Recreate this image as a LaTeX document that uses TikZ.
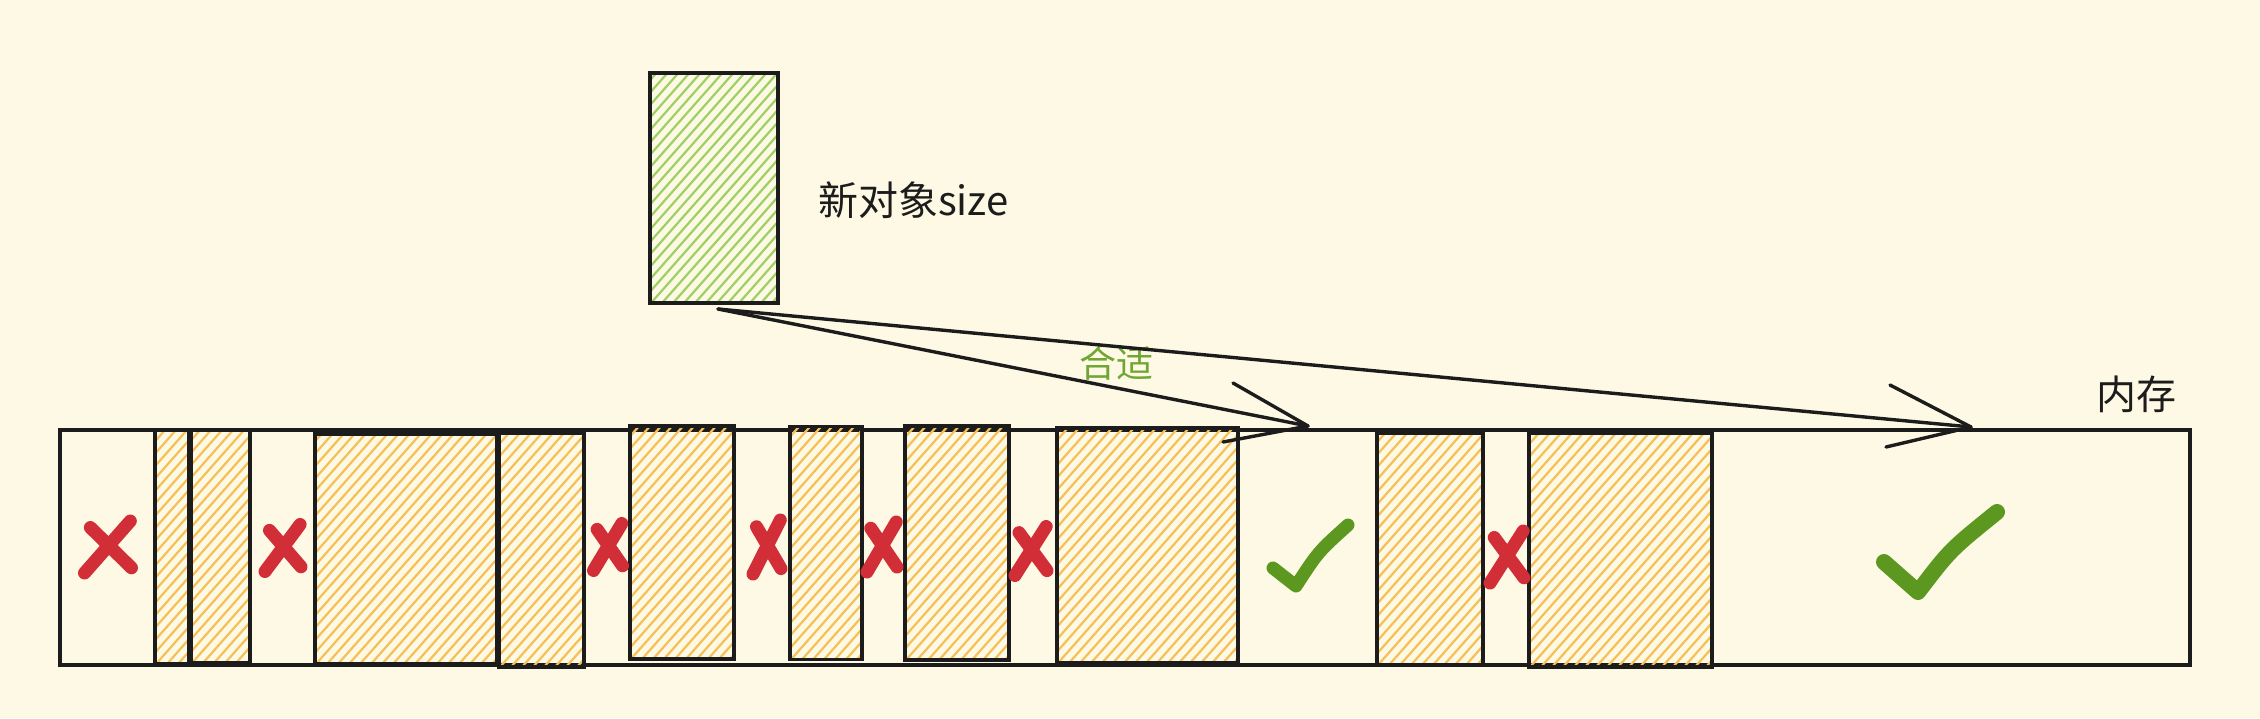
\documentclass[tikz,border=0pt]{standalone}
\usepackage{fontspec}
\newfontfamily\cjk{Noto Sans CJK SC}
\usetikzlibrary{calc}
\definecolor{bgc}{RGB}{253,249,228}
\definecolor{inkc}{RGB}{28,28,28}
\definecolor{orangeh}{RGB}{246,192,86}
\definecolor{greenh}{RGB}{158,208,100}
\definecolor{greent}{RGB}{112,166,52}
\definecolor{checkc}{RGB}{92,152,32}
\definecolor{redc}{RGB}{210,46,56}
\tikzset{
  hatchfill/.style={path picture={\foreach \i in {0,...,55}{\draw[#1, line width=2.2pt] ([xshift=\i*11pt-230pt]path picture bounding box.south west) -- ++(230pt,260pt);}}},
  blk/.style={rectangle, draw=inkc, line width=3.5pt, inner sep=0pt, outer sep=0pt, hatchfill=orangeh},
  newobj/.style={rectangle, draw=inkc, line width=3.5pt, inner sep=0pt, outer sep=0pt, hatchfill=greenh},
  membar/.style={rectangle, draw=inkc, line width=3.5pt, inner sep=0pt, outer sep=0pt},
  arr/.style={draw=inkc, line width=3.4pt, line cap=round, line join=round},
  xmk/.style={draw=redc, line width=13pt, line cap=round},
  ckm/.style={draw=checkc, line cap=round, line join=round},
  lbl/.style={font=\cjk\fontsize{40pt}{48pt}\selectfont, text=inkc, inner sep=0pt}
}
\newcommand{\redx}[4]{%
  \draw[xmk] ({#1+0.95*#3},{#2-#4}) -- ({#1-#3},{#2+#4});
  \draw[xmk] ({#1-0.75*#3},{#2-0.75*#4}) -- ({#1+#3},{#2+0.8*#4});}
\begin{document}
\begin{tikzpicture}[x=1pt,y=-1pt]
\useasboundingbox (0,0) rectangle (2260,718);
\fill[bgc] (0,0) rectangle (2260,718);

% memory bar
\node[membar, minimum width=2130pt, minimum height=235pt] (mem) at (1125,547.5) {};

% occupied blocks
\node[blk, minimum width=34pt,  minimum height=234pt] (b1)  at (172,547) {};
\node[blk, minimum width=59pt,  minimum height=233pt] (b2)  at (220.5,546.5) {};
\node[blk, minimum width=182pt, minimum height=230pt] (b3)  at (406,549) {};
\node[blk, minimum width=85pt,  minimum height=234pt] (b4)  at (541.5,550) {};
\node[blk, minimum width=104pt, minimum height=233pt] (b5)  at (682,542.5) {};
\node[blk, minimum width=72pt,  minimum height=233pt] (b6)  at (826,543) {};
\node[blk, minimum width=104pt, minimum height=234pt] (b7)  at (957,543) {};
\node[blk, minimum width=181pt, minimum height=235pt] (b8)  at (1147.5,545.5) {};
\node[blk, minimum width=106pt, minimum height=232pt] (b9)  at (1430,549) {};
\node[blk, minimum width=183pt, minimum height=234pt] (b10) at (1620.5,550) {};

% new object
\node[newobj, minimum width=128pt, minimum height=230pt] (nb) at (714,188) {};
\node[lbl, anchor=west] (size) at (818,200) {新对象size};
\node[lbl, anchor=center] (memlbl) at (2136,394) {内存};
\node[lbl, anchor=center, text=greent, font=\cjk\fontsize{37pt}{44pt}\selectfont] (fit) at (1116,363) {合适};

% arrows
\coordinate (src) at ([shift={(4pt,-6pt)}]nb.south);
\coordinate (tip1) at (1308,426);
\coordinate (tip2) at (1971,427);
\draw[arr] (src) -- (tip1);
\draw[arr] (1233,383) -- (tip1) -- (1223,442);
\draw[arr] (src) -- (tip2);
\draw[arr] (1890,385) -- (tip2) -- (1886,447);

% red crosses
\redx{108}{547}{23.5}{26}
\redx{283}{548}{18}{23.5}
\redx{608}{547}{14.5}{23.5}
\redx{767}{547}{14}{27}
\redx{882}{547}{15}{25}
\redx{1031}{551}{16}{24.5}
\redx{1507}{557}{17}{26}

% check marks
\draw[ckm, line width=13pt] (1273,568) -- (1296,586) .. controls (1318,552) .. (1348,525);
\draw[ckm, line width=16pt] (1884,562) -- (1918,592) .. controls (1950,550) .. (1997,512);
\end{tikzpicture}
\end{document}
